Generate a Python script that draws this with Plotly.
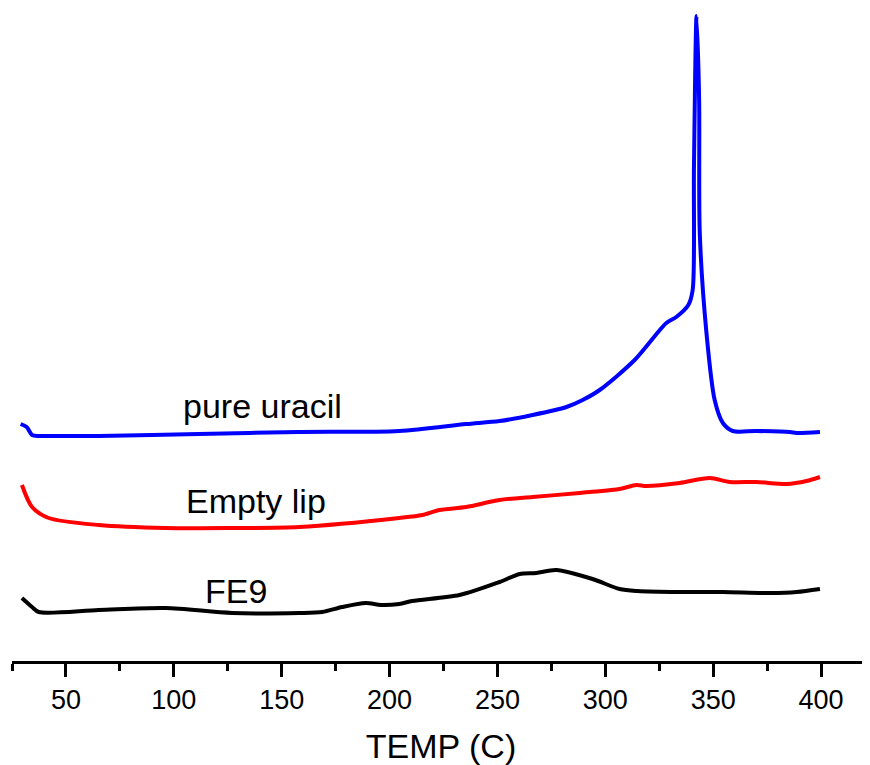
import plotly.graph_objects as go

# Temperature (C) and relative heat flow (arbitrary units, stacked curves)
uracil_T = [29.0, 31.8, 34.3, 37.4, 42.0, 65.2, 111.6, 158.1, 204.5, 235.5, 251.0, 266.3,
            282.0, 289.5, 297.4, 313.6, 328.3, 332.9, 338.5, 340.5, 341.1, 342.3, 343.5,
            343.8, 346.9, 350.7, 354.5, 359.1, 370.0, 385.6, 388.7, 399.5]
uracil_y = [237, 234, 226, 225, 225, 225, 227, 229, 230, 237, 240, 246,
            254, 261, 271, 301, 338, 344, 356, 371, 494, 645, 561,
            428, 328, 261, 238, 230, 230, 229, 228, 229]

lip_T = [29.6, 34.3, 42.0, 65.2, 96.2, 127.0, 158.1, 204.5, 215.2, 223.1, 235.5, 251.0,
         266.3, 288.1, 292.8, 306.6, 314.4, 319.0, 334.5, 348.4, 357.7, 370.1, 384.0,
         393.3, 399.5]
lip_y = [176, 154, 143, 136, 133, 133, 134, 143, 146, 151, 154, 161,
         164, 168, 169, 172, 176, 175, 178, 183, 179, 179, 177,
         180, 184]

fe9_T = [29.6, 34.3, 37.4, 65.2, 96.2, 127.0, 158.1, 168.8, 178.0, 189.0, 196.0, 204.5,
         210.5, 232.4, 251.0, 260.3, 268.0, 277.3, 294.1, 306.6, 315.0, 334.5, 354.5,
         376.3, 388.7, 399.5]
fe9_y = [63, 54, 49, 51, 53, 48, 48, 49, 54, 58, 56, 57,
         60, 66, 79, 87, 88, 91, 82, 72, 70, 69, 69,
         68, 69, 72]

labels = ["pure uracil", "Empty lip", "FE9"]
label_T = [140.9, 138.0, 128.7]
label_y = [255, 160, 70]

x_ticks = [50, 100, 150, 200, 250, 300, 350, 400]

FONT = "Liberation Sans, Arial, sans-serif"

fig = go.Figure()
for xs, ys, col in [(uracil_T, uracil_y, "#0000FF"), (lip_T, lip_y, "#FF0000"), (fe9_T, fe9_y, "#000000")]:
    fig.add_trace(go.Scatter(x=xs, y=ys, mode="lines", line=dict(color=col, width=4, shape="spline", smoothing=0.8),
                             showlegend=False, hoverinfo="skip"))

for t, x, y in zip(labels, label_T, label_y):
    fig.add_annotation(x=x, y=y, text=t, showarrow=False, xanchor="center", yanchor="middle",
                       font=dict(family=FONT, size=34, color="black"))

fig.update_layout(
    width=862, height=757,
    margin=dict(l=4, r=0, t=3, b=104),
    paper_bgcolor="white", plot_bgcolor="white",
    xaxis=dict(range=[25, 422.7], tickvals=x_ticks, ticks="outside", ticklen=13, tickwidth=2.5,
               tickcolor="black", showline=True, linecolor="black", linewidth=3, showgrid=False,
               zeroline=False, tickfont=dict(family=FONT, size=27, color="black"),
               minor=dict(dtick=25, tick0=0, ticks="outside", ticklen=7, tickwidth=2.5, tickcolor="black", showgrid=False),
               title=dict(text="TEMP (C)", font=dict(family=FONT, size=34, color="black"), standoff=22)),
    yaxis=dict(range=[0, 650], visible=False),
)

fig.write_html("out.html")
